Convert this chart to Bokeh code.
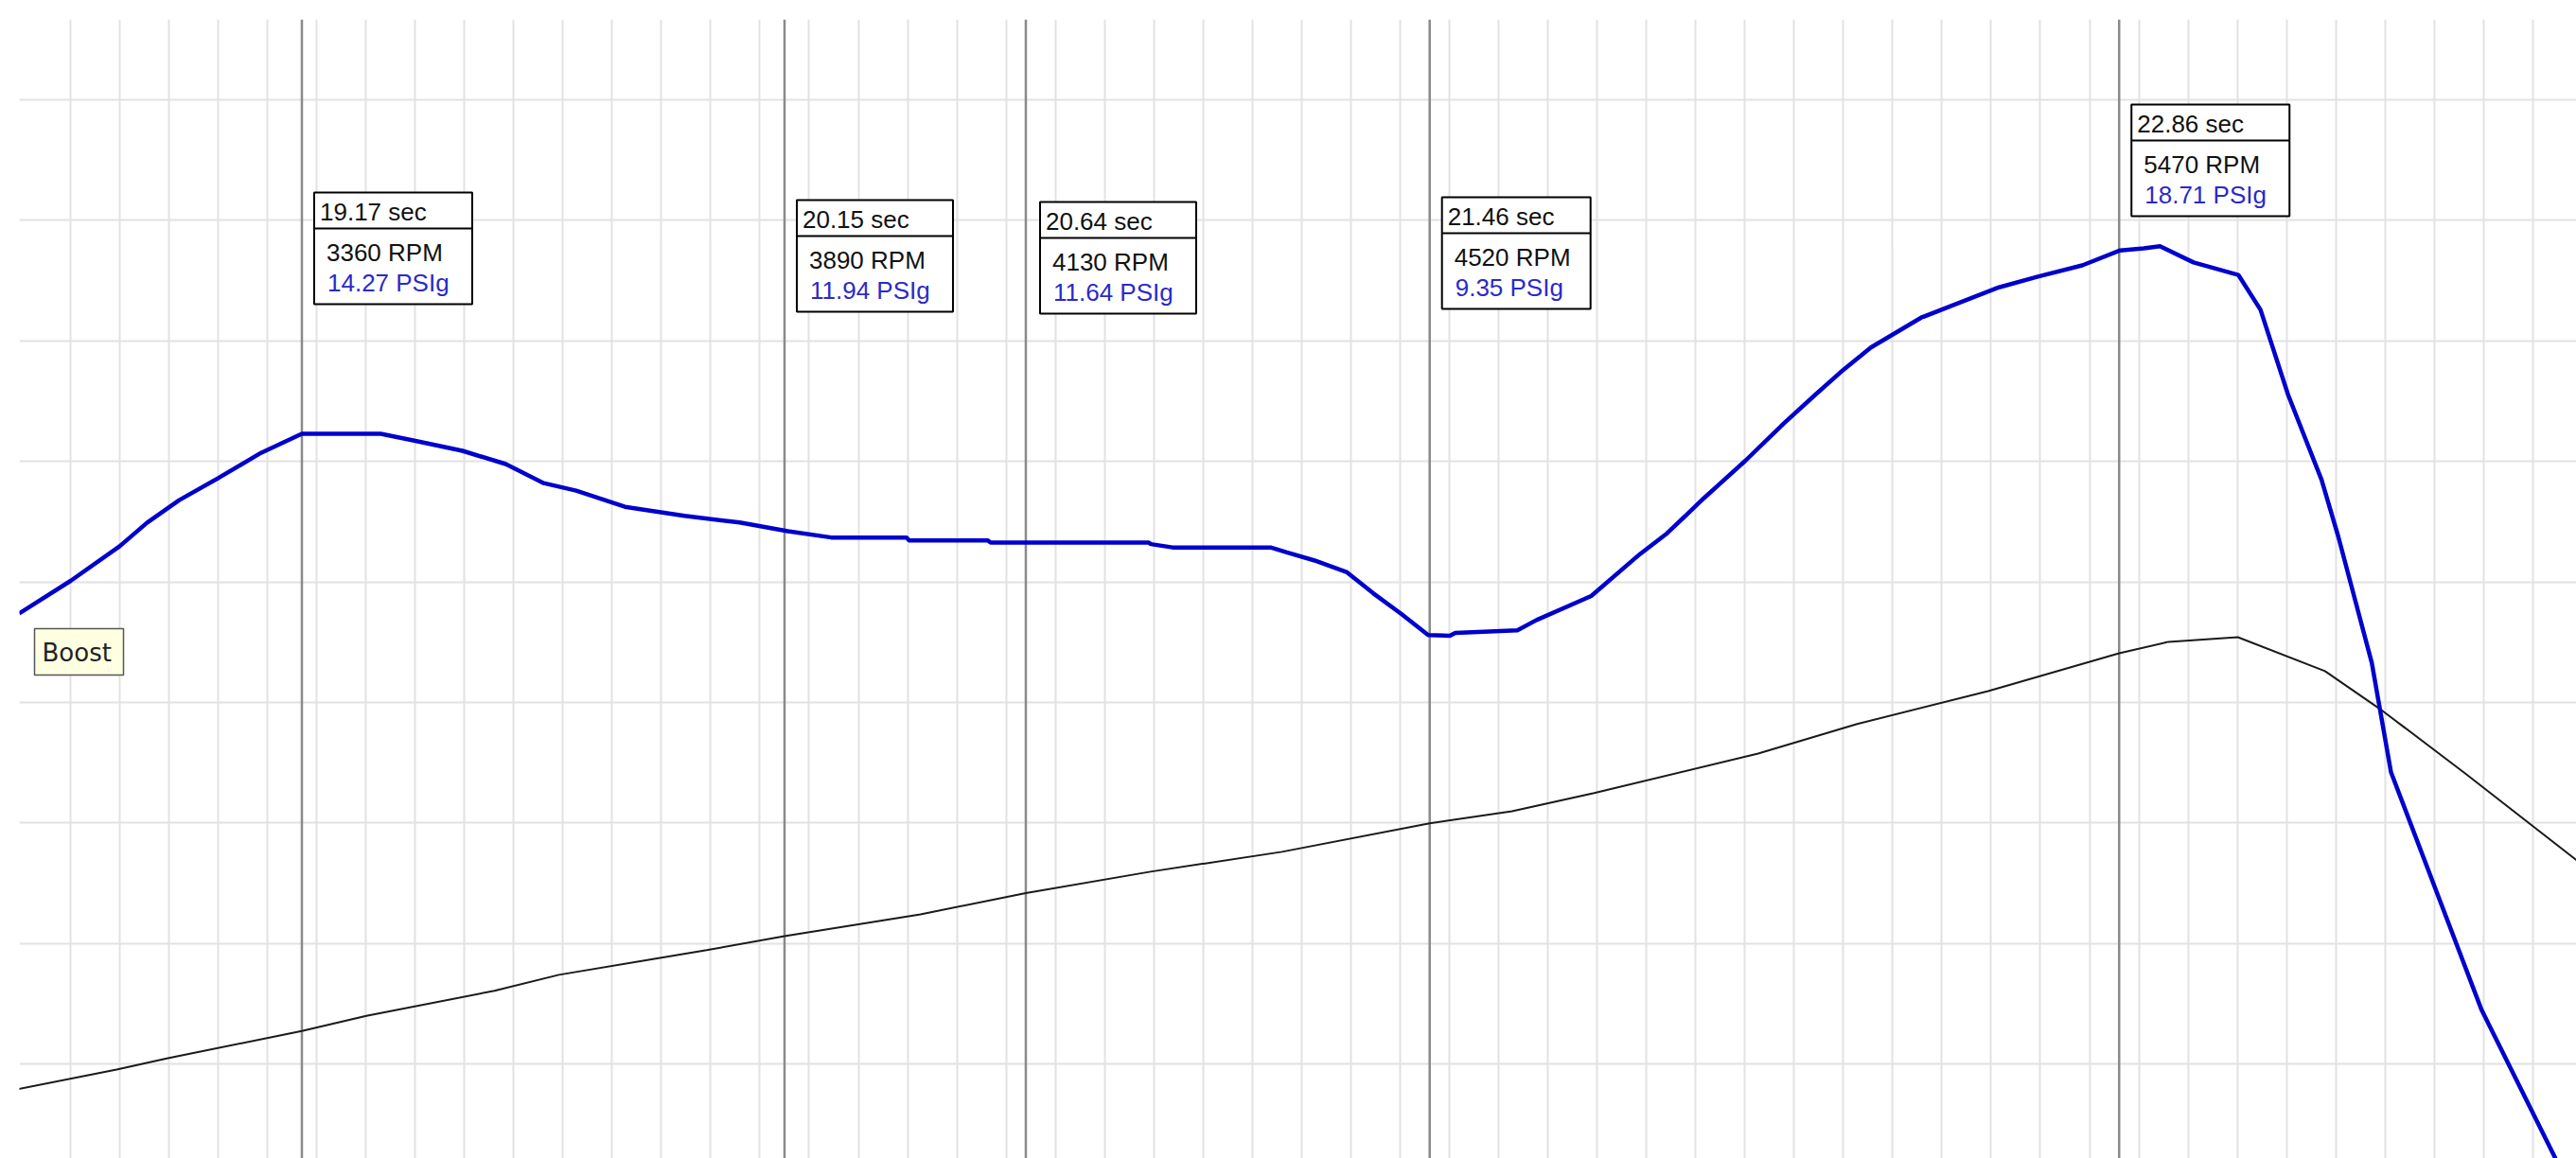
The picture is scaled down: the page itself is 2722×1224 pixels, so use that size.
from bokeh.plotting import figure
from bokeh.models import Range1d, Grid, FixedTicker
from bokeh.core.properties import value
from bokeh.embed import file_html
from bokeh.resources import INLINE

# ---------------- data ----------------
boost_time = [18.596, 18.701, 18.800, 18.856, 18.921, 19.000, 19.087, 19.170, 19.330,
              19.396, 19.496, 19.584, 19.661, 19.727, 19.826, 19.947, 20.059, 20.157,
              20.245, 20.398, 20.403, 20.563, 20.568, 20.889, 20.894, 20.938, 21.137,
              21.170, 21.225, 21.291, 21.346, 21.402, 21.457, 21.501, 21.512, 21.638,
              21.677, 21.788, 21.887, 21.942, 22.017, 22.101, 22.180, 22.243, 22.294,
              22.356, 22.458, 22.525, 22.616, 22.695, 22.785, 22.862, 22.910, 22.943,
              23.011, 23.102, 23.147, 23.203, 23.271, 23.305, 23.373, 23.412, 23.596,
              23.746, 23.800]
boost_psi = [9.94, 10.73, 11.56, 12.13, 12.67, 13.20, 13.81, 14.27, 14.27,
             14.11, 13.86, 13.54, 13.08, 12.90, 12.51, 12.29, 12.13, 11.92,
             11.77, 11.77, 11.70, 11.70, 11.65, 11.65, 11.61, 11.53, 11.53,
             11.41, 11.22, 10.94, 10.42, 9.93, 9.42, 9.40, 9.47, 9.53,
             9.78, 10.36, 11.37, 11.87, 12.72, 13.62, 14.53, 15.21, 15.75,
             16.35, 17.07, 17.38, 17.80, 18.06, 18.33, 18.69, 18.74, 18.79,
             18.40, 18.10, 17.26, 15.21, 13.16, 11.79, 8.75, 6.11, 0.38,
             -3.20, -4.30]

rpm_time = [18.595, 18.794, 18.898, 19.170, 19.301, 19.561, 19.692, 19.992, 20.150,
            20.426, 20.640, 20.893, 21.160, 21.460, 21.627, 21.794, 22.127, 22.328,
            22.594, 22.860, 22.960, 23.101, 23.278, 23.395, 23.562, 23.789]
rpm = [3036, 3145, 3208, 3360, 3445, 3585, 3674, 3812, 3890,
       4012, 4130, 4250, 4361, 4520, 4588, 4689, 4910, 5075,
       5259, 5470, 5534, 5560, 5370, 5148, 4800, 4314]

marker_time = [19.17, 20.15, 20.64, 21.46, 22.86]
marker_rpm = [3360, 3890, 4130, 4520, 5470]
marker_psi = [14.27, 11.94, 11.64, 9.35, 18.71]

# ---------------- layout (pixels of the picture) ----------------
W, H = 2722, 1224
LEFT, TOP = 20, 20
PX_PER_S = 520.4
T_AT_0 = 18.558           # time at picture x = 0
PX_PER_PSI = 43.85
PSI_REF, PSI_REF_Y = 14.27, 458.0
PX_PER_RPM = 0.18924
RPM_REF, RPM_REF_Y = 3360, 1089.3


def tx(px):
    return T_AT_0 + px / PX_PER_S


def py(y):
    return PSI_REF + (PSI_REF_Y - y) / PX_PER_PSI


def ry(y):
    return RPM_REF + (RPM_REF_Y - y) / PX_PER_RPM


box_top_px = [203, 211, 213, 208, 110]
box_dx_px = [13, 13, 15, 13, 13]
box_w_px = [167, 165, 165, 157, 167]
box_h_px = 118
grid_y_px = [105 + 127.4 * k for k in range(9)]
grid_t = [round(18.7 + 0.1 * k, 1) for k in range(51)]

p = figure(width=W, height=H, output_backend="svg", toolbar_location=None,
           x_axis_location=None, y_axis_location=None,
           x_range=Range1d(tx(LEFT), tx(W)), y_range=Range1d(py(H), py(TOP)),
           min_border_left=LEFT, min_border_top=TOP, min_border_right=0,
           min_border_bottom=0)
p.outline_line_color = None
p.background_fill_color = "white"
p.border_fill_color = "white"
p.extra_y_ranges = {"rpm": Range1d(ry(H), ry(TOP))}

# drop default grids, use our own
p.center = [c for c in p.center if not isinstance(c, Grid)]
p.add_layout(Grid(dimension=0, ticker=FixedTicker(ticks=grid_t),
                  grid_line_color="#e2e2e2", grid_line_width=2))
p.add_layout(Grid(dimension=1, ticker=FixedTicker(ticks=[py(y) for y in grid_y_px]),
                  grid_line_color="#e2e2e2", grid_line_width=2))

# cursor marker lines
p.segment(x0=marker_time, x1=marker_time, y0=[py(TOP)] * 5, y1=[py(H)] * 5,
          line_color="#8a8a8a", line_width=2.5)

# RPM and Boost lines
p.line(rpm_time, rpm, y_range_name="rpm", line_color="#1a1a1a", line_width=2)
p.line(boost_time, boost_psi, line_color="#0000cc", line_width=4.5)

# value boxes
lefts, rights, tops, bottoms, divs = [], [], [], [], []
for i, t in enumerate(marker_time):
    mx = (t - T_AT_0) * PX_PER_S
    l = mx + box_dx_px[i]
    r = l + box_w_px[i]
    tp = box_top_px[i]
    lefts.append(tx(l)); rights.append(tx(r))
    tops.append(py(tp)); bottoms.append(py(tp + box_h_px))
    divs.append(py(tp + 38))
p.quad(left=lefts, right=rights, top=tops, bottom=bottoms,
       fill_color="white", line_color="black", line_width=2)
p.segment(x0=lefts, x1=rights, y0=divs, y1=divs, line_color="black", line_width=2)

t_lab_x, r_lab_x, s_lab_x, t_lab_y, r_lab_y, s_lab_y = [], [], [], [], [], []
for i, t in enumerate(marker_time):
    mx = (t - T_AT_0) * PX_PER_S
    l = mx + box_dx_px[i]
    tp = box_top_px[i]
    t_lab_x.append(tx(l + 6)); t_lab_y.append(py(tp + 20))
    r_lab_x.append(tx(l + 13)); r_lab_y.append(py(tp + 63))
    s_lab_x.append(tx(l + 14)); s_lab_y.append(py(tp + 95))

p.text(x=t_lab_x, y=t_lab_y, text=[f"{t:.2f} sec" for t in marker_time],
       text_font=value("Liberation Sans"), text_font_size="26px",
       text_color="#111111", text_baseline="middle", text_align="left")
p.text(x=r_lab_x, y=r_lab_y, text=[f"{r} RPM" for r in marker_rpm],
       text_font=value("Liberation Sans"), text_font_size="26px",
       text_color="#111111", text_baseline="middle", text_align="left")
p.text(x=s_lab_x, y=s_lab_y, text=[f"{s:.2f} PSIg" for s in marker_psi],
       text_font=value("Liberation Sans"), text_font_size="26px",
       text_color="#2a2ac8", text_baseline="middle", text_align="left")

# "Boost" tooltip label
p.quad(left=[tx(36)], right=[tx(130)], top=[py(664)], bottom=[py(713)],
       fill_color="#ffffe1", line_color="#555555", line_width=1.5)
p.text(x=[tx(44)], y=[py(689)], text=["Boost"], text_font=value("DejaVu Sans"),
       text_font_size="26px", text_color="#222222", text_baseline="middle",
       text_align="left")

open("out.html", "w").write(file_html(p, INLINE))
